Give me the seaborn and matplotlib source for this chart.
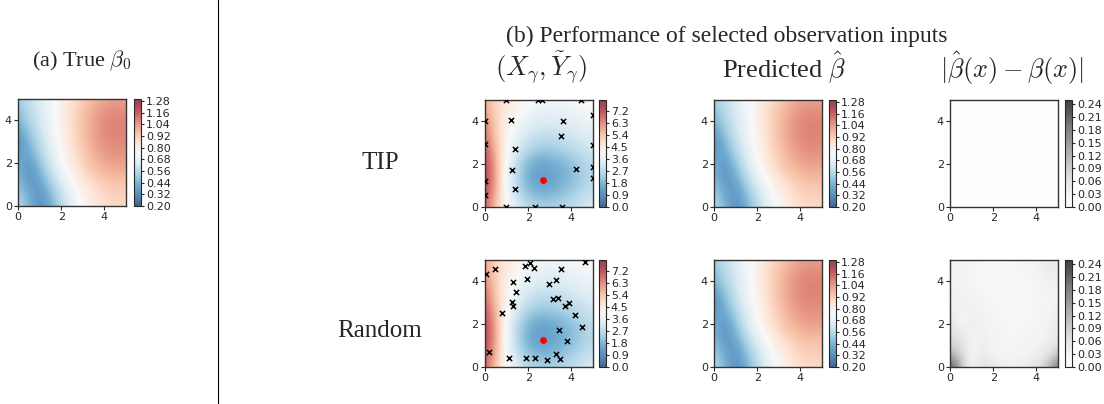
import numpy as np
import matplotlib
matplotlib.use('Agg')
import matplotlib.pyplot as plt
import seaborn as sns
from matplotlib.lines import Line2D

sns.set_style('ticks')
plt.rcParams['font.family'] = ['DejaVu Sans']
plt.rcParams['mathtext.fontset'] = 'cm'

# grid coordinates of the sampled fields
grid = [0.0, 0.5, 1.0, 1.5, 2.0, 2.5, 3.0, 3.5, 4.0, 4.5, 5.0]
grid_coarse = [0.0, 5.0]

# true beta_0 (rows: y = 0 .. 5, cols: x = 0 .. 5)
beta0 = [
    [0.56, 0.46, 0.30, 0.42, 0.55, 0.67, 0.76, 0.83, 0.87, 0.89, 0.89],
    [0.53, 0.42, 0.32, 0.46, 0.59, 0.70, 0.79, 0.85, 0.89, 0.91, 0.91],
    [0.50, 0.36, 0.37, 0.51, 0.63, 0.74, 0.82, 0.88, 0.92, 0.94, 0.94],
    [0.46, 0.31, 0.43, 0.57, 0.69, 0.79, 0.87, 0.93, 0.97, 0.99, 0.98],
    [0.42, 0.34, 0.48, 0.62, 0.73, 0.83, 0.91, 0.97, 1.01, 1.03, 1.02],
    [0.37, 0.40, 0.53, 0.65, 0.76, 0.85, 0.93, 1.00, 1.04, 1.06, 1.05],
    [0.31, 0.45, 0.57, 0.68, 0.78, 0.87, 0.95, 1.02, 1.06, 1.08, 1.07],
    [0.38, 0.49, 0.60, 0.70, 0.79, 0.88, 0.96, 1.03, 1.07, 1.10, 1.08],
    [0.44, 0.53, 0.62, 0.71, 0.80, 0.88, 0.96, 1.02, 1.07, 1.09, 1.08],
    [0.47, 0.56, 0.64, 0.72, 0.80, 0.88, 0.95, 1.01, 1.05, 1.07, 1.06],
    [0.50, 0.58, 0.65, 0.72, 0.79, 0.86, 0.92, 0.98, 1.01, 1.03, 1.02],
]

# observation field Y (same for both rows)
y_field = [
    [7.0, 5.4, 4.0, 3.2, 2.6, 2.4, 2.4, 2.5, 2.7, 3.0, 3.3],
    [7.3, 5.7, 3.9, 2.9, 2.2, 1.9, 1.9, 2.1, 2.4, 2.7, 3.0],
    [7.5, 5.9, 3.7, 2.6, 1.7, 1.4, 1.4, 1.7, 2.0, 2.4, 2.7],
    [7.6, 6.0, 3.7, 2.5, 1.6, 1.2, 1.3, 1.6, 1.9, 2.3, 2.6],
    [7.5, 5.9, 3.8, 2.6, 1.8, 1.4, 1.5, 1.7, 2.0, 2.4, 2.7],
    [7.3, 5.7, 4.0, 3.0, 2.3, 2.0, 2.0, 2.2, 2.4, 2.7, 3.0],
    [7.0, 5.5, 4.1, 3.3, 2.8, 2.5, 2.5, 2.6, 2.8, 3.0, 3.2],
    [6.7, 5.3, 4.2, 3.6, 3.1, 2.9, 2.9, 3.0, 3.1, 3.3, 3.5],
    [6.4, 5.2, 4.4, 3.9, 3.5, 3.3, 3.2, 3.3, 3.4, 3.6, 3.7],
    [6.1, 5.1, 4.6, 4.1, 3.8, 3.6, 3.5, 3.6, 3.7, 3.8, 3.9],
    [5.9, 5.0, 4.7, 4.3, 4.0, 3.9, 3.8, 3.8, 3.9, 4.0, 4.1],
]

# absolute error, TIP (practically zero) and Random
err_tip = [[0.002, 0.002], [0.002, 0.002]]
err_random = [
    [0.24, 0.12, 0.02, 0.07, 0.05, 0.04, 0.04, 0.045, 0.06, 0.10, 0.20],
    [0.14, 0.09, 0.02, 0.05, 0.035, 0.03, 0.03, 0.035, 0.04, 0.06, 0.12],
    [0.09, 0.07, 0.025, 0.045, 0.03, 0.025, 0.025, 0.03, 0.035, 0.04, 0.07],
    [0.07, 0.055, 0.03, 0.04, 0.03, 0.025, 0.025, 0.025, 0.03, 0.035, 0.05],
    [0.06, 0.025, 0.045, 0.035, 0.03, 0.025, 0.02, 0.025, 0.025, 0.035, 0.045],
    [0.05, 0.025, 0.04, 0.035, 0.025, 0.02, 0.02, 0.02, 0.025, 0.03, 0.04],
    [0.025, 0.045, 0.035, 0.03, 0.025, 0.02, 0.02, 0.02, 0.025, 0.03, 0.035],
    [0.035, 0.035, 0.03, 0.025, 0.02, 0.02, 0.02, 0.02, 0.025, 0.03, 0.035],
    [0.035, 0.03, 0.025, 0.02, 0.02, 0.02, 0.02, 0.025, 0.025, 0.035, 0.04],
    [0.035, 0.03, 0.025, 0.02, 0.02, 0.02, 0.025, 0.025, 0.035, 0.04, 0.045],
    [0.04, 0.035, 0.03, 0.025, 0.025, 0.025, 0.025, 0.03, 0.035, 0.045, 0.05],
]

# selected observation inputs
tip_x = [1.2, 3.6, 3.53, 1.4, 1.24, 4.2, 1.4,
         0.96, 2.44, 2.63, 4.45, 5.0, 5.0, 5.0, 5.0,
         0.0, 0.0, 0.0, 0.0, 0.96, 2.3, 3.58]
tip_y = [4.05, 4.0, 3.33, 2.7, 1.71, 1.78, 0.86,
         5.0, 5.0, 5.0, 5.0, 4.3, 2.92, 1.85, 1.37,
         4.04, 2.95, 1.22, 0.57, 0.0, 0.0, 0.0]
rand_x = [0.03, 0.47, 1.84, 2.08, 2.28, 3.53, 4.61, 1.31, 1.95, 1.44,
          2.95, 3.31, 1.23, 1.30, 0.81, 3.14, 3.36, 3.88, 3.72, 4.16,
          4.5, 3.42, 3.81, 0.2, 1.09, 1.88, 2.33, 2.86, 3.28, 3.48]
rand_y = [4.34, 4.58, 4.70, 4.86, 4.64, 4.58, 4.89, 3.95, 4.13, 3.50,
          3.86, 4.06, 3.02, 2.83, 2.52, 3.16, 3.22, 3.0, 2.84, 2.42,
          1.89, 1.72, 1.22, 0.70, 0.42, 0.44, 0.44, 0.34, 0.62, 0.36]
target_x = [2.69]
target_y = [1.28]

beta_ticks = [0.20, 0.32, 0.44, 0.56, 0.68, 0.80, 0.92, 1.04, 1.16, 1.28]
y_ticks = [0.0, 0.9, 1.8, 2.7, 3.6, 4.5, 5.4, 6.3, 7.2]
err_ticks = [0.00, 0.03, 0.06, 0.09, 0.12, 0.15, 0.18, 0.21, 0.24]

W, H = 1104, 404
fig = plt.figure(figsize=(W / 100, H / 100), dpi=100)


def box(x0, y0, w, h):
    return [x0 / W, 1 - (y0 + h) / H, w / W, h / H]


def panel(x0, y0, cbx, xs, z, cmap, lo, hi, ticks, fmt):
    ax = fig.add_axes(box(x0, y0, 108, 107))
    cax = fig.add_axes(box(cbx, y0, 7, 107))
    half = (xs[1] - xs[0]) / 2
    ext = [xs[0] - half, xs[-1] + half, xs[0] - half, xs[-1] + half]
    im = ax.imshow(np.array(z), origin='lower', extent=ext, aspect='auto',
                   cmap=sns.color_palette(cmap, as_cmap=True), vmin=lo, vmax=hi,
                   interpolation='bicubic', alpha=0.75)
    ax.set_xlim(0, 5)
    ax.set_ylim(0, 5)
    ax.set_xticks([0, 2, 4])
    ax.set_yticks([0, 2, 4])
    ax.tick_params(labelsize=8, length=3, width=0.8, pad=1.5)
    for s in ax.spines.values():
        s.set_linewidth(1.0)
        s.set_color('#333333')
    cb = fig.colorbar(im, cax=cax, ticks=ticks)
    cb.ax.set_yticklabels([fmt.format(t) for t in ticks])
    cb.ax.tick_params(labelsize=8, length=2.5, width=0.8, pad=1)
    cb.outline.set_linewidth(0.8)
    return ax


serif = ['Liberation Serif', 'DejaVu Serif']

# (a) true beta
panel(18, 99, 134, grid, beta0, 'RdBu_r', 0.2, 1.30, beta_ticks, '{:.2f}')
fig.text(82 / W, 1 - 61 / H, r'(a) True $\beta_0$', ha='center', va='center',
         fontsize=16, family=serif)

fig.add_artist(Line2D([218 / W, 218 / W], [0, 1], color='black', lw=0.8,
                      transform=fig.transFigure))

rows = [(100, tip_x, tip_y, err_tip, grid_coarse, 'TIP', 163),
        (260, rand_x, rand_y, err_random, grid, 'Random', 331)]

for y0, px, py, err, egrid, name, ly in rows:
    ax = panel(485, y0, 599, grid, y_field, 'RdBu_r', 0.0, 8.0, y_ticks, '{:.1f}')
    sns.scatterplot(x=px, y=py, marker='x', color='black', s=14, linewidth=1.1,
                    ax=ax, legend=False, zorder=3)
    sns.scatterplot(x=target_x, y=target_y, color='red', s=24, linewidth=0,
                    ax=ax, legend=False, zorder=4)
    panel(714, y0, 829, grid, beta0, 'RdBu_r', 0.2, 1.30, beta_ticks, '{:.2f}')
    panel(950, y0, 1065, egrid, err, 'Greys', 0.0, 0.25, err_ticks, '{:.2f}')
    fig.text(380 / W, 1 - ly / H, name, ha='center', va='center',
             fontsize=18, family=serif)

fig.text(727 / W, 1 - 36 / H, '(b) Performance of selected observation inputs',
         ha='center', va='center', fontsize=17, family=serif)
fig.text(541 / W, 1 - 68 / H, r'$(X_\gamma, \tilde{Y}_\gamma)$',
         ha='center', va='center', fontsize=19, family=serif)
fig.text(784 / W, 1 - 68 / H, r'Predicted $\hat{\beta}$',
         ha='center', va='center', fontsize=19, family=serif)
fig.text(1012 / W, 1 - 68 / H, r'$|\hat{\beta}(x) - \beta(x)|$',
         ha='center', va='center', fontsize=19, family=serif)

fig.savefig('out.png', dpi=100)
